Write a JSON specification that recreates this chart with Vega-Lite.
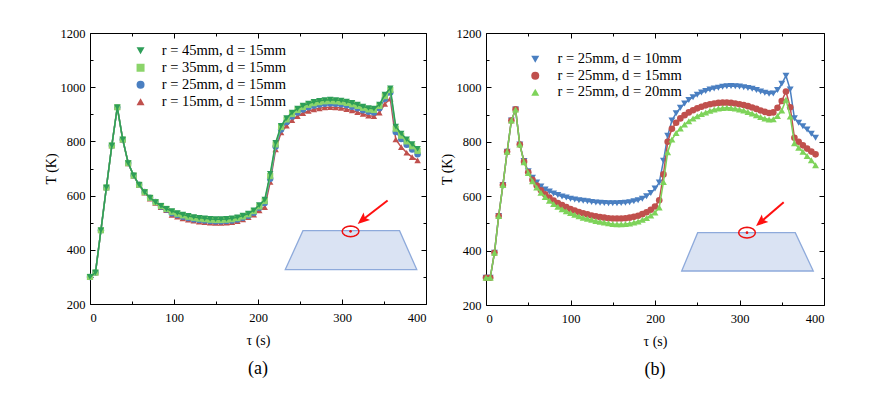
{
"$schema":"https://vega.github.io/schema/vega-lite/v6.json",
"background":"white",
"padding":{"left":43,"top":26,"right":5,"bottom":5},
"spacing":12,
"resolve":{"scale":{"color":"independent","shape":"independent"},"legend":{"color":"independent","shape":"independent"}},
"config":{
 "view":{"stroke":"black","strokeWidth":1},
 "axis":{"labelFont":"Liberation Serif","labelFontSize":12.5,"labelColor":"black","titleFont":"Liberation Serif","titleFontSize":14,"titleFontWeight":"normal","titleColor":"black","domain":false,"grid":false,"tickColor":"black","tickWidth":1,"format":"d"},
 "legend":{"labelFont":"Liberation Serif","labelFontSize":14.5,"labelColor":"black","symbolSize":64,"rowPadding":3,"padding":0,"orient":"none"}
},
"datasets":{
"a":[
{"k":"15","t":0,"v":300},{"k":"15","t":6.5,"v":316},{"k":"15","t":13,"v":472},{"k":"15","t":19.5,"v":630},{"k":"15","t":26,"v":785},{"k":"15","t":32.5,"v":926},{"k":"15","t":39,"v":806},{"k":"15","t":45.5,"v":719},{"k":"15","t":52,"v":673},{"k":"15","t":58.5,"v":638},{"k":"15","t":65,"v":611},{"k":"15","t":71.5,"v":589},{"k":"15","t":78,"v":573},{"k":"15","t":84.5,"v":557},{"k":"15","t":91,"v":546},{"k":"15","t":97.5,"v":529},{"k":"15","t":104,"v":522},{"k":"15","t":110.5,"v":516},{"k":"15","t":117,"v":511},{"k":"15","t":123.5,"v":507},{"k":"15","t":130,"v":504},{"k":"15","t":136.5,"v":502},{"k":"15","t":143,"v":500},{"k":"15","t":149.5,"v":499},{"k":"15","t":156,"v":499},{"k":"15","t":162.5,"v":500},{"k":"15","t":169,"v":502},{"k":"15","t":175.5,"v":506},{"k":"15","t":182,"v":512},{"k":"15","t":188.5,"v":520},{"k":"15","t":195,"v":530},{"k":"15","t":201.5,"v":545},{"k":"15","t":208,"v":557},{"k":"15","t":214.5,"v":650},{"k":"15","t":221,"v":770},{"k":"15","t":227.5,"v":833},{"k":"15","t":234,"v":858},{"k":"15","t":240.5,"v":878},{"k":"15","t":247,"v":893},{"k":"15","t":253.5,"v":904},{"k":"15","t":260,"v":912},{"k":"15","t":266.5,"v":918},{"k":"15","t":273,"v":922},{"k":"15","t":279.5,"v":925},{"k":"15","t":286,"v":926},{"k":"15","t":292.5,"v":925},{"k":"15","t":299,"v":923},{"k":"15","t":305.5,"v":919},{"k":"15","t":312,"v":914},{"k":"15","t":318.5,"v":908},{"k":"15","t":325,"v":901},{"k":"15","t":331.5,"v":895},{"k":"15","t":338,"v":893},{"k":"15","t":344.5,"v":906},{"k":"15","t":351,"v":938},{"k":"15","t":357.5,"v":958},{"k":"15","t":364,"v":807},{"k":"15","t":370.5,"v":779},{"k":"15","t":377,"v":758},{"k":"15","t":383.5,"v":742},{"k":"15","t":390,"v":730},
{"k":"25","t":0,"v":300},{"k":"25","t":6.5,"v":316},{"k":"25","t":13,"v":472},{"k":"25","t":19.5,"v":630},{"k":"25","t":26,"v":785},{"k":"25","t":32.5,"v":926},{"k":"25","t":39,"v":807},{"k":"25","t":45.5,"v":720},{"k":"25","t":52,"v":674},{"k":"25","t":58.5,"v":640},{"k":"25","t":65,"v":613},{"k":"25","t":71.5,"v":592},{"k":"25","t":78,"v":576},{"k":"25","t":84.5,"v":560},{"k":"25","t":91,"v":549},{"k":"25","t":97.5,"v":535},{"k":"25","t":104,"v":528},{"k":"25","t":110.5,"v":522},{"k":"25","t":117,"v":517},{"k":"25","t":123.5,"v":513},{"k":"25","t":130,"v":510},{"k":"25","t":136.5,"v":508},{"k":"25","t":143,"v":506},{"k":"25","t":149.5,"v":505},{"k":"25","t":156,"v":505},{"k":"25","t":162.5,"v":506},{"k":"25","t":169,"v":508},{"k":"25","t":175.5,"v":512},{"k":"25","t":182,"v":518},{"k":"25","t":188.5,"v":526},{"k":"25","t":195,"v":537},{"k":"25","t":201.5,"v":555},{"k":"25","t":208,"v":573},{"k":"25","t":214.5,"v":662},{"k":"25","t":221,"v":781},{"k":"25","t":227.5,"v":844},{"k":"25","t":234,"v":872},{"k":"25","t":240.5,"v":892},{"k":"25","t":247,"v":907},{"k":"25","t":253.5,"v":918},{"k":"25","t":260,"v":926},{"k":"25","t":266.5,"v":932},{"k":"25","t":273,"v":936},{"k":"25","t":279.5,"v":939},{"k":"25","t":286,"v":940},{"k":"25","t":292.5,"v":939},{"k":"25","t":299,"v":937},{"k":"25","t":305.5,"v":933},{"k":"25","t":312,"v":928},{"k":"25","t":318.5,"v":922},{"k":"25","t":325,"v":915},{"k":"25","t":331.5,"v":909},{"k":"25","t":338,"v":907},{"k":"25","t":344.5,"v":922},{"k":"25","t":351,"v":957},{"k":"25","t":357.5,"v":980},{"k":"25","t":364,"v":835},{"k":"25","t":370.5,"v":809},{"k":"25","t":377,"v":788},{"k":"25","t":383.5,"v":770},{"k":"25","t":390,"v":753},
{"k":"35","t":0,"v":300},{"k":"35","t":6.5,"v":316},{"k":"35","t":13,"v":472},{"k":"35","t":19.5,"v":630},{"k":"35","t":26,"v":785},{"k":"35","t":32.5,"v":926},{"k":"35","t":39,"v":807},{"k":"35","t":45.5,"v":720},{"k":"35","t":52,"v":674},{"k":"35","t":58.5,"v":640},{"k":"35","t":65,"v":613},{"k":"35","t":71.5,"v":592},{"k":"35","t":78,"v":576},{"k":"35","t":84.5,"v":562},{"k":"35","t":91,"v":551},{"k":"35","t":97.5,"v":540},{"k":"35","t":104,"v":533},{"k":"35","t":110.5,"v":527},{"k":"35","t":117,"v":522},{"k":"35","t":123.5,"v":518},{"k":"35","t":130,"v":515},{"k":"35","t":136.5,"v":513},{"k":"35","t":143,"v":511},{"k":"35","t":149.5,"v":510},{"k":"35","t":156,"v":510},{"k":"35","t":162.5,"v":511},{"k":"35","t":169,"v":513},{"k":"35","t":175.5,"v":517},{"k":"35","t":182,"v":523},{"k":"35","t":188.5,"v":531},{"k":"35","t":195,"v":543},{"k":"35","t":201.5,"v":560},{"k":"35","t":208,"v":580},{"k":"35","t":214.5,"v":672},{"k":"35","t":221,"v":789},{"k":"35","t":227.5,"v":853},{"k":"35","t":234,"v":881},{"k":"35","t":240.5,"v":901},{"k":"35","t":247,"v":916},{"k":"35","t":253.5,"v":927},{"k":"35","t":260,"v":935},{"k":"35","t":266.5,"v":941},{"k":"35","t":273,"v":945},{"k":"35","t":279.5,"v":948},{"k":"35","t":286,"v":949},{"k":"35","t":292.5,"v":948},{"k":"35","t":299,"v":946},{"k":"35","t":305.5,"v":942},{"k":"35","t":312,"v":937},{"k":"35","t":318.5,"v":931},{"k":"35","t":325,"v":924},{"k":"35","t":331.5,"v":918},{"k":"35","t":338,"v":916},{"k":"35","t":344.5,"v":931},{"k":"35","t":351,"v":967},{"k":"35","t":357.5,"v":990},{"k":"35","t":364,"v":847},{"k":"35","t":370.5,"v":821},{"k":"35","t":377,"v":800},{"k":"35","t":383.5,"v":782},{"k":"35","t":390,"v":765},
{"k":"45","t":0,"v":300},{"k":"45","t":6.5,"v":316},{"k":"45","t":13,"v":472},{"k":"45","t":19.5,"v":630},{"k":"45","t":26,"v":785},{"k":"45","t":32.5,"v":926},{"k":"45","t":39,"v":807},{"k":"45","t":45.5,"v":720},{"k":"45","t":52,"v":674},{"k":"45","t":58.5,"v":640},{"k":"45","t":65,"v":613},{"k":"45","t":71.5,"v":592},{"k":"45","t":78,"v":576},{"k":"45","t":84.5,"v":562},{"k":"45","t":91,"v":551},{"k":"45","t":97.5,"v":543},{"k":"45","t":104,"v":536},{"k":"45","t":110.5,"v":530},{"k":"45","t":117,"v":525},{"k":"45","t":123.5,"v":521},{"k":"45","t":130,"v":518},{"k":"45","t":136.5,"v":516},{"k":"45","t":143,"v":514},{"k":"45","t":149.5,"v":513},{"k":"45","t":156,"v":513},{"k":"45","t":162.5,"v":514},{"k":"45","t":169,"v":516},{"k":"45","t":175.5,"v":520},{"k":"45","t":182,"v":526},{"k":"45","t":188.5,"v":534},{"k":"45","t":195,"v":546},{"k":"45","t":201.5,"v":565},{"k":"45","t":208,"v":585},{"k":"45","t":214.5,"v":680},{"k":"45","t":221,"v":795},{"k":"45","t":227.5,"v":858},{"k":"45","t":234,"v":886},{"k":"45","t":240.5,"v":906},{"k":"45","t":247,"v":921},{"k":"45","t":253.5,"v":932},{"k":"45","t":260,"v":940},{"k":"45","t":266.5,"v":946},{"k":"45","t":273,"v":950},{"k":"45","t":279.5,"v":953},{"k":"45","t":286,"v":954},{"k":"45","t":292.5,"v":953},{"k":"45","t":299,"v":951},{"k":"45","t":305.5,"v":947},{"k":"45","t":312,"v":942},{"k":"45","t":318.5,"v":936},{"k":"45","t":325,"v":929},{"k":"45","t":331.5,"v":923},{"k":"45","t":338,"v":921},{"k":"45","t":344.5,"v":936},{"k":"45","t":351,"v":973},{"k":"45","t":357.5,"v":996},{"k":"45","t":364,"v":855},{"k":"45","t":370.5,"v":829},{"k":"45","t":377,"v":808},{"k":"45","t":383.5,"v":790},{"k":"45","t":390,"v":773}
],
"b":[
{"k":"10","t":0,"v":300},{"k":"10","t":5,"v":300},{"k":"10","t":10,"v":392},{"k":"10","t":15,"v":527},{"k":"10","t":20,"v":641},{"k":"10","t":25,"v":763},{"k":"10","t":30,"v":878},{"k":"10","t":35,"v":919},{"k":"10","t":40,"v":790},{"k":"10","t":45,"v":729},{"k":"10","t":50,"v":692},{"k":"10","t":55,"v":668},{"k":"10","t":60,"v":650},{"k":"10","t":65,"v":636},{"k":"10","t":70,"v":625},{"k":"10","t":75,"v":617},{"k":"10","t":80,"v":610},{"k":"10","t":85,"v":604},{"k":"10","t":90,"v":599},{"k":"10","t":95,"v":595},{"k":"10","t":100,"v":591},{"k":"10","t":105,"v":588},{"k":"10","t":110,"v":585},{"k":"10","t":115,"v":583},{"k":"10","t":120,"v":581},{"k":"10","t":125,"v":579},{"k":"10","t":130,"v":577},{"k":"10","t":135,"v":576},{"k":"10","t":140,"v":575},{"k":"10","t":145,"v":574},{"k":"10","t":150,"v":574},{"k":"10","t":155,"v":574},{"k":"10","t":160,"v":575},{"k":"10","t":165,"v":576},{"k":"10","t":170,"v":578},{"k":"10","t":175,"v":581},{"k":"10","t":180,"v":585},{"k":"10","t":185,"v":591},{"k":"10","t":190,"v":600},{"k":"10","t":195,"v":612},{"k":"10","t":200,"v":628},{"k":"10","t":205,"v":650},{"k":"10","t":210,"v":730},{"k":"10","t":215,"v":822},{"k":"10","t":220,"v":878},{"k":"10","t":225,"v":905},{"k":"10","t":230,"v":925},{"k":"10","t":235,"v":941},{"k":"10","t":240,"v":954},{"k":"10","t":245,"v":964},{"k":"10","t":250,"v":973},{"k":"10","t":255,"v":981},{"k":"10","t":260,"v":987},{"k":"10","t":265,"v":992},{"k":"10","t":270,"v":996},{"k":"10","t":275,"v":999},{"k":"10","t":280,"v":1002},{"k":"10","t":285,"v":1004},{"k":"10","t":290,"v":1005},{"k":"10","t":295,"v":1004},{"k":"10","t":300,"v":1003},{"k":"10","t":305,"v":1001},{"k":"10","t":310,"v":998},{"k":"10","t":315,"v":995},{"k":"10","t":320,"v":990},{"k":"10","t":325,"v":985},{"k":"10","t":330,"v":980},{"k":"10","t":335,"v":977},{"k":"10","t":340,"v":978},{"k":"10","t":345,"v":990},{"k":"10","t":350,"v":1013},{"k":"10","t":355,"v":1043},{"k":"10","t":360,"v":992},{"k":"10","t":365,"v":887},{"k":"10","t":370,"v":870},{"k":"10","t":375,"v":857},{"k":"10","t":380,"v":845},{"k":"10","t":385,"v":830},{"k":"10","t":390,"v":815},
{"k":"15","t":0,"v":300},{"k":"15","t":5,"v":300},{"k":"15","t":10,"v":392},{"k":"15","t":15,"v":527},{"k":"15","t":20,"v":641},{"k":"15","t":25,"v":763},{"k":"15","t":30,"v":878},{"k":"15","t":35,"v":919},{"k":"15","t":40,"v":790},{"k":"15","t":45,"v":727},{"k":"15","t":50,"v":688},{"k":"15","t":55,"v":660},{"k":"15","t":60,"v":639},{"k":"15","t":65,"v":622},{"k":"15","t":70,"v":607},{"k":"15","t":75,"v":595},{"k":"15","t":80,"v":584},{"k":"15","t":85,"v":575},{"k":"15","t":90,"v":567},{"k":"15","t":95,"v":560},{"k":"15","t":100,"v":553},{"k":"15","t":105,"v":547},{"k":"15","t":110,"v":542},{"k":"15","t":115,"v":537},{"k":"15","t":120,"v":533},{"k":"15","t":125,"v":529},{"k":"15","t":130,"v":526},{"k":"15","t":135,"v":523},{"k":"15","t":140,"v":521},{"k":"15","t":145,"v":519},{"k":"15","t":150,"v":518},{"k":"15","t":155,"v":518},{"k":"15","t":160,"v":518},{"k":"15","t":165,"v":519},{"k":"15","t":170,"v":521},{"k":"15","t":175,"v":524},{"k":"15","t":180,"v":528},{"k":"15","t":185,"v":534},{"k":"15","t":190,"v":541},{"k":"15","t":195,"v":550},{"k":"15","t":200,"v":562},{"k":"15","t":205,"v":585},{"k":"15","t":210,"v":680},{"k":"15","t":215,"v":800},{"k":"15","t":220,"v":848},{"k":"15","t":225,"v":870},{"k":"15","t":230,"v":886},{"k":"15","t":235,"v":898},{"k":"15","t":240,"v":908},{"k":"15","t":245,"v":916},{"k":"15","t":250,"v":923},{"k":"15","t":255,"v":929},{"k":"15","t":260,"v":934},{"k":"15","t":265,"v":938},{"k":"15","t":270,"v":941},{"k":"15","t":275,"v":943},{"k":"15","t":280,"v":944},{"k":"15","t":285,"v":944},{"k":"15","t":290,"v":943},{"k":"15","t":295,"v":941},{"k":"15","t":300,"v":938},{"k":"15","t":305,"v":935},{"k":"15","t":310,"v":931},{"k":"15","t":315,"v":926},{"k":"15","t":320,"v":921},{"k":"15","t":325,"v":915},{"k":"15","t":330,"v":910},{"k":"15","t":335,"v":906},{"k":"15","t":340,"v":908},{"k":"15","t":345,"v":925},{"k":"15","t":350,"v":950},{"k":"15","t":355,"v":985},{"k":"15","t":360,"v":927},{"k":"15","t":365,"v":815},{"k":"15","t":370,"v":800},{"k":"15","t":375,"v":787},{"k":"15","t":380,"v":775},{"k":"15","t":385,"v":764},{"k":"15","t":390,"v":754},
{"k":"20","t":0,"v":300},{"k":"20","t":5,"v":300},{"k":"20","t":10,"v":392},{"k":"20","t":15,"v":527},{"k":"20","t":20,"v":641},{"k":"20","t":25,"v":763},{"k":"20","t":30,"v":878},{"k":"20","t":35,"v":919},{"k":"20","t":40,"v":790},{"k":"20","t":45,"v":725},{"k":"20","t":50,"v":685},{"k":"20","t":55,"v":655},{"k":"20","t":60,"v":632},{"k":"20","t":65,"v":613},{"k":"20","t":70,"v":597},{"k":"20","t":75,"v":583},{"k":"20","t":80,"v":571},{"k":"20","t":85,"v":561},{"k":"20","t":90,"v":552},{"k":"20","t":95,"v":545},{"k":"20","t":100,"v":538},{"k":"20","t":105,"v":532},{"k":"20","t":110,"v":526},{"k":"20","t":115,"v":521},{"k":"20","t":120,"v":517},{"k":"20","t":125,"v":513},{"k":"20","t":130,"v":509},{"k":"20","t":135,"v":506},{"k":"20","t":140,"v":503},{"k":"20","t":145,"v":501},{"k":"20","t":150,"v":498},{"k":"20","t":155,"v":497},{"k":"20","t":160,"v":497},{"k":"20","t":165,"v":498},{"k":"20","t":170,"v":500},{"k":"20","t":175,"v":503},{"k":"20","t":180,"v":507},{"k":"20","t":185,"v":513},{"k":"20","t":190,"v":520},{"k":"20","t":195,"v":529},{"k":"20","t":200,"v":540},{"k":"20","t":205,"v":558},{"k":"20","t":210,"v":652},{"k":"20","t":215,"v":762},{"k":"20","t":220,"v":808},{"k":"20","t":225,"v":832},{"k":"20","t":230,"v":849},{"k":"20","t":235,"v":864},{"k":"20","t":240,"v":876},{"k":"20","t":245,"v":886},{"k":"20","t":250,"v":894},{"k":"20","t":255,"v":902},{"k":"20","t":260,"v":908},{"k":"20","t":265,"v":914},{"k":"20","t":270,"v":919},{"k":"20","t":275,"v":922},{"k":"20","t":280,"v":924},{"k":"20","t":285,"v":925},{"k":"20","t":290,"v":924},{"k":"20","t":295,"v":922},{"k":"20","t":300,"v":919},{"k":"20","t":305,"v":915},{"k":"20","t":310,"v":910},{"k":"20","t":315,"v":904},{"k":"20","t":320,"v":898},{"k":"20","t":325,"v":891},{"k":"20","t":330,"v":886},{"k":"20","t":335,"v":882},{"k":"20","t":340,"v":883},{"k":"20","t":345,"v":895},{"k":"20","t":350,"v":915},{"k":"20","t":355,"v":955},{"k":"20","t":360,"v":893},{"k":"20","t":365,"v":795},{"k":"20","t":370,"v":778},{"k":"20","t":375,"v":763},{"k":"20","t":380,"v":748},{"k":"20","t":385,"v":732},{"k":"20","t":390,"v":714}
]
},
"hconcat":[
{
 "width":336,"height":271,
 "title":{"text":"(a)","orient":"bottom","anchor":"middle","frame":"group","font":"Liberation Serif","fontSize":18,"fontWeight":"normal","color":"black","offset":12},
 "resolve":{"axis":{"x":"independent","y":"independent"}},
 "encoding":{
  "x":{"field":"t","type":"quantitative","scale":{"domain":[0,400],"nice":false,"zero":false},"axis":null},
  "y":{"field":"v","type":"quantitative","scale":{"domain":[200,1200],"nice":false,"zero":false},"axis":null}
 },
 "layer":[
  {"data":{"values":[{"t":232.5,"v":327,"v2":327},{"t":253.5,"v":470.5,"v2":327},{"t":368.5,"v":470.5,"v2":327},{"t":389,"v":327,"v2":327}]},
   "mark":{"type":"area","fill":"#dae3f3","stroke":"#8eaadb","strokeWidth":1.3,"opacity":1},
   "encoding":{
    "x":{"field":"t","type":"quantitative","scale":{"domain":[0,400],"nice":false,"zero":false},"axis":{"orient":"bottom","offset":-271,"values":[0,100,200,300,400],"labels":false,"tickSize":5,"title":null}},
    "y":{"field":"v","type":"quantitative","scale":{"domain":[200,1200],"nice":false,"zero":false},"axis":{"orient":"left","offset":-336,"values":[200,400,600,800,1000,1200],"labels":false,"tickSize":5,"title":null}},
    "y2":{"field":"v2"}}},
  {"data":{"name":"a"},"transform":[{"filter":"datum.k === '15'"}],
   "mark":{"type":"line","strokeWidth":1.5,"color":"#c0504d"},
   "encoding":{
    "x":{"field":"t","type":"quantitative","scale":{"domain":[0,400],"nice":false,"zero":false},"axis":{"orient":"bottom","values":[0,100,200,300,400],"format":"d","ticks":false,"labelPadding":7,"labelFont":"Liberation Serif","labelFontSize":12.5,"labelColor":"black","title":"τ (s)","titlePadding":10,"titleFont":"Liberation Serif","titleFontSize":14,"titleFontWeight":"normal","titleColor":"black"}},
    "y":{"field":"v","type":"quantitative","scale":{"domain":[200,1200],"nice":false,"zero":false},"axis":{"orient":"left","values":[200,400,600,800,1000,1200],"format":"d","ticks":false,"labelPadding":5,"labelFont":"Liberation Serif","labelFontSize":12.5,"labelColor":"black","title":"T (K)","titlePadding":2,"titleFont":"Liberation Serif","titleFontSize":14,"titleFontWeight":"normal","titleColor":"black"}}}},
  {"data":{"name":"a"},"transform":[{"filter":"datum.k === '15'"}],
   "mark":{"type":"point","filled":true,"size":42,"opacity":1,"shape":"triangle-up","color":"#c0504d"},
   "encoding":{
    "x":{"field":"t","type":"quantitative","scale":{"domain":[0,400],"nice":false,"zero":false},"axis":{"orient":"top","offset":-271,"values":[0,100,200,300,400],"labels":false,"tickSize":5,"title":null}},
    "y":{"field":"v","type":"quantitative","scale":{"domain":[200,1200],"nice":false,"zero":false},"axis":{"orient":"right","offset":-336,"values":[200,400,600,800,1000,1200],"labels":false,"tickSize":5,"title":null}}}},
  {"data":{"name":"a"},"transform":[{"filter":"datum.k === '25'"}],
   "mark":{"type":"line","strokeWidth":1.5,"color":"#4a7fc1"}},
  {"data":{"name":"a"},"transform":[{"filter":"datum.k === '25'"}],
   "mark":{"type":"point","filled":true,"size":42,"opacity":1,"shape":"circle","color":"#4a7fc1"}},
  {"data":{"name":"a"},"transform":[{"filter":"datum.k === '35'"}],
   "mark":{"type":"line","strokeWidth":1.5,"color":"#8bd46a"}},
  {"data":{"name":"a"},"transform":[{"filter":"datum.k === '35'"}],
   "mark":{"type":"point","filled":true,"size":38,"opacity":1,"shape":"square","color":"#8bd46a"}},
  {"data":{"name":"a"},"transform":[{"filter":"datum.k === '45'"}],
   "mark":{"type":"line","strokeWidth":1.5,"color":"#2e9e58"}},
  {"data":{"name":"a"},"transform":[{"filter":"datum.k === '45'"}],
   "mark":{"type":"point","filled":true,"size":42,"opacity":1},
   "encoding":{
    "color":{"field":"k","type":"nominal","scale":{"domain":["45","35","25","15"],"range":["#2e9e58","#8bd46a","#4a7fc1","#c0504d"]},
      "legend":{"title":null,"orient":"none","legendX":43.3,"legendY":10.5,"labelOffset":14,"labelFont":"Liberation Serif","labelFontSize":14.5,"labelColor":"black","symbolSize":64,"rowPadding":2,"padding":0,
        "labelExpr":"'r = ' + datum.label + 'mm, d = 15mm'"}},
    "shape":{"field":"k","type":"nominal","scale":{"domain":["45","35","25","15"],"range":["triangle-down","square","circle","triangle-up"]},"legend":null}}},
  {"data":{"values":[{"t":310.2,"v":468}]},
   "mark":{"type":"point","filled":false,"shape":"M1,0L0.924,0.245L0.707,0.453L0.383,0.591L0,0.64L-0.383,0.591L-0.707,0.453L-0.924,0.245L-1,0L-0.924,-0.245L-0.707,-0.453L-0.383,-0.591L0,-0.64L0.383,-0.591L0.707,-0.453L0.924,-0.245Z","size":279,"stroke":"#ee1111","strokeWidth":1.5,"opacity":1},
   "encoding":{
    "x":{"field":"t","type":"quantitative","scale":{"domain":[0,400],"nice":false,"zero":false},"axis":{"orient":"top","offset":-271,"values":[50,150,250,350],"labels":false,"tickSize":3,"title":null}},
    "y":{"field":"v","type":"quantitative","scale":{"domain":[200,1200],"nice":false,"zero":false},"axis":{"orient":"right","offset":-336,"values":[300,500,700,900,1100],"labels":false,"tickSize":3,"title":null}}}},
  {"data":{"values":[{"t":310.2,"v":468}]},
   "mark":{"type":"point","filled":true,"shape":"circle","size":7,"color":"#ee1111","opacity":1},
   "encoding":{
    "x":{"field":"t","type":"quantitative","scale":{"domain":[0,400],"nice":false,"zero":false},"axis":{"orient":"bottom","offset":-271,"values":[50,150,250,350],"labels":false,"tickSize":3,"title":null}},
    "y":{"field":"v","type":"quantitative","scale":{"domain":[200,1200],"nice":false,"zero":false},"axis":{"orient":"left","offset":-336,"values":[300,500,700,900,1100],"labels":false,"tickSize":3,"title":null}}}},
  {"data":{"values":[{"t":354.3,"v":582,"t2":325,"v2":512}]},
   "mark":{"type":"rule","color":"#ff1010","strokeWidth":2},
   "encoding":{"x2":{"field":"t2"},"y2":{"field":"v2"}}},
  {"data":{"values":[{"t":325,"v":512}]},
   "mark":{"type":"point","filled":true,"shape":"M0,-1.4L1,1L0,0.5L-1,1Z","size":100,"angle":230,"color":"#ff1010","opacity":1}}
 ]
},
{
 "width":338,"height":272,
 "title":{"text":"(b)","orient":"bottom","anchor":"middle","frame":"group","font":"Liberation Serif","fontSize":18,"fontWeight":"normal","color":"black","offset":12},
 "resolve":{"axis":{"x":"independent","y":"independent"}},
 "encoding":{
  "x":{"field":"t","type":"quantitative","scale":{"domain":[0,400],"nice":false,"zero":false},"axis":null},
  "y":{"field":"v","type":"quantitative","scale":{"domain":[200,1200],"nice":false,"zero":false},"axis":null}
 },
 "layer":[
  {"data":{"values":[{"t":231.6,"v":325,"v2":325},{"t":250.5,"v":466,"v2":325},{"t":366,"v":466,"v2":325},{"t":387.3,"v":325,"v2":325}]},
   "mark":{"type":"area","fill":"#dae3f3","stroke":"#8eaadb","strokeWidth":1.3,"opacity":1},
   "encoding":{
    "x":{"field":"t","type":"quantitative","scale":{"domain":[0,400],"nice":false,"zero":false},"axis":{"orient":"bottom","offset":-272,"values":[0,100,200,300,400],"labels":false,"tickSize":5,"title":null}},
    "y":{"field":"v","type":"quantitative","scale":{"domain":[200,1200],"nice":false,"zero":false},"axis":{"orient":"left","offset":-338,"values":[200,400,600,800,1000,1200],"labels":false,"tickSize":5,"title":null}},
    "y2":{"field":"v2"}}},
  {"data":{"name":"b"},"transform":[{"filter":"datum.k === '10'"}],
   "mark":{"type":"line","strokeWidth":1.5,"color":"#4a7fc1"},
   "encoding":{
    "x":{"field":"t","type":"quantitative","scale":{"domain":[0,400],"nice":false,"zero":false},"axis":{"orient":"bottom","values":[0,100,200,300,400],"format":"d","ticks":false,"labelPadding":7,"labelFont":"Liberation Serif","labelFontSize":12.5,"labelColor":"black","title":"τ (s)","titlePadding":10,"titleFont":"Liberation Serif","titleFontSize":14,"titleFontWeight":"normal","titleColor":"black"}},
    "y":{"field":"v","type":"quantitative","scale":{"domain":[200,1200],"nice":false,"zero":false},"axis":{"orient":"left","values":[200,400,600,800,1000,1200],"format":"d","ticks":false,"labelPadding":5,"labelFont":"Liberation Serif","labelFontSize":12.5,"labelColor":"black","title":"T (K)","titlePadding":2,"titleFont":"Liberation Serif","titleFontSize":14,"titleFontWeight":"normal","titleColor":"black"}}}},
  {"data":{"name":"b"},"transform":[{"filter":"datum.k === '10'"}],
   "mark":{"type":"point","filled":true,"size":48,"opacity":1,"shape":"triangle-down","color":"#4a7fc1"},
   "encoding":{
    "x":{"field":"t","type":"quantitative","scale":{"domain":[0,400],"nice":false,"zero":false},"axis":{"orient":"top","offset":-272,"values":[0,100,200,300,400],"labels":false,"tickSize":5,"title":null}},
    "y":{"field":"v","type":"quantitative","scale":{"domain":[200,1200],"nice":false,"zero":false},"axis":{"orient":"right","offset":-338,"values":[200,400,600,800,1000,1200],"labels":false,"tickSize":5,"title":null}}}},
  {"data":{"name":"b"},"transform":[{"filter":"datum.k === '15'"}],
   "mark":{"type":"line","strokeWidth":1.5,"color":"#c0504d"}},
  {"data":{"name":"b"},"transform":[{"filter":"datum.k === '15'"}],
   "mark":{"type":"point","filled":true,"size":44,"opacity":1,"shape":"circle","color":"#c0504d"}},
  {"data":{"name":"b"},"transform":[{"filter":"datum.k === '20'"}],
   "mark":{"type":"line","strokeWidth":1.5,"color":"#7ed35a"}},
  {"data":{"name":"b"},"transform":[{"filter":"datum.k === '20'"}],
   "mark":{"type":"point","filled":true,"size":48,"opacity":1},
   "encoding":{
    "color":{"field":"k","type":"nominal","scale":{"domain":["10","15","20"],"range":["#4a7fc1","#c0504d","#7ed35a"]},
      "legend":{"title":null,"orient":"none","legendX":42,"legendY":19,"labelOffset":15,"labelFont":"Liberation Serif","labelFontSize":14.5,"labelColor":"black","symbolSize":64,"rowPadding":1.5,"padding":0,
        "labelExpr":"'r = 25mm, d = ' + datum.label + 'mm'"}},
    "shape":{"field":"k","type":"nominal","scale":{"domain":["10","15","20"],"range":["triangle-down","circle","triangle-up"]},"legend":null}}},
  {"data":{"values":[{"t":308.9,"v":466}]},
   "mark":{"type":"point","filled":false,"shape":"M1,0L0.924,0.245L0.707,0.453L0.383,0.591L0,0.64L-0.383,0.591L-0.707,0.453L-0.924,0.245L-1,0L-0.924,-0.245L-0.707,-0.453L-0.383,-0.591L0,-0.64L0.383,-0.591L0.707,-0.453L0.924,-0.245Z","size":279,"stroke":"#ee1111","strokeWidth":1.5,"opacity":1},
   "encoding":{
    "x":{"field":"t","type":"quantitative","scale":{"domain":[0,400],"nice":false,"zero":false},"axis":{"orient":"top","offset":-272,"values":[50,150,250,350],"labels":false,"tickSize":3,"title":null}},
    "y":{"field":"v","type":"quantitative","scale":{"domain":[200,1200],"nice":false,"zero":false},"axis":{"orient":"right","offset":-338,"values":[300,500,700,900,1100],"labels":false,"tickSize":3,"title":null}}}},
  {"data":{"values":[{"t":308.9,"v":466}]},
   "mark":{"type":"point","filled":true,"shape":"circle","size":7,"color":"#ee1111","opacity":1},
   "encoding":{
    "x":{"field":"t","type":"quantitative","scale":{"domain":[0,400],"nice":false,"zero":false},"axis":{"orient":"bottom","offset":-272,"values":[50,150,250,350],"labels":false,"tickSize":3,"title":null}},
    "y":{"field":"v","type":"quantitative","scale":{"domain":[200,1200],"nice":false,"zero":false},"axis":{"orient":"left","offset":-338,"values":[300,500,700,900,1100],"labels":false,"tickSize":3,"title":null}}}},
  {"data":{"values":[{"t":352.3,"v":578,"t2":325.8,"v2":507}]},
   "mark":{"type":"rule","color":"#ff1010","strokeWidth":2},
   "encoding":{"x2":{"field":"t2"},"y2":{"field":"v2"}}},
  {"data":{"values":[{"t":325.8,"v":507}]},
   "mark":{"type":"point","filled":true,"shape":"M0,-1.4L1,1L0,0.5L-1,1Z","size":100,"angle":229,"color":"#ff1010","opacity":1}}
 ]
}
]
}
